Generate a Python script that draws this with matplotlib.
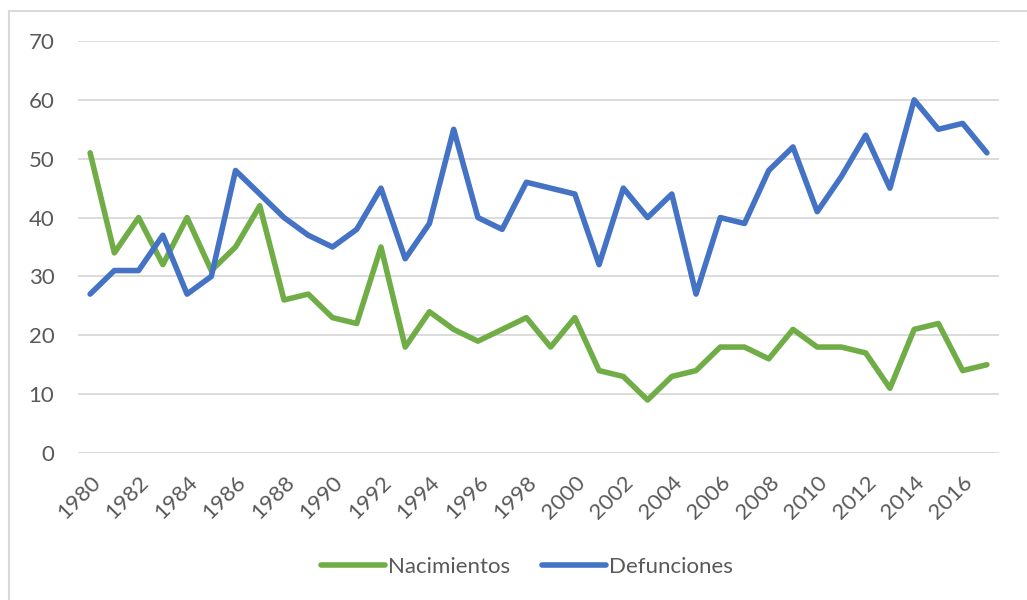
import matplotlib.pyplot as plt
from matplotlib.lines import Line2D

# data
years = list(range(1980, 2018))
nacimientos = [51, 34, 40, 32, 40, 31, 35, 42, 26, 27, 23, 22, 35, 18, 24, 21, 19, 21, 23, 18,
               23, 14, 13, 9, 13, 14, 18, 18, 16, 21, 18, 18, 17, 11, 21, 22, 14, 15]
defunciones = [27, 31, 31, 37, 27, 30, 48, 44, 40, 37, 35, 38, 45, 33, 39, 55, 40, 38, 46, 45,
               44, 32, 45, 40, 44, 27, 40, 39, 48, 52, 41, 47, 54, 45, 60, 55, 56, 51]
yticks = [0, 10, 20, 30, 40, 50, 60, 70]
xtick_years = years[::2]

plt.rcParams['font.family'] = ['Lato', 'DejaVu Sans']
gray = '#595959'

fig = plt.figure(figsize=(10.27, 6), dpi=100)
ax = fig.add_axes([78/1027, 1-453/600, (999-78)/1027, (453-41)/600])

ax.plot(years, nacimientos, color='#70AD47', lw=4.0, solid_joinstyle='round',
        solid_capstyle='round', label='Nacimientos', zorder=3)
ax.plot(years, defunciones, color='#4472C4', lw=4.0, solid_joinstyle='round',
        solid_capstyle='round', label='Defunciones', zorder=3)

ax.set_xlim(1979.5, 2017.5)
ax.set_ylim(0, 70)
ax.set_yticks(yticks)
ax.set_xticks(xtick_years)
ax.set_xticklabels([str(y) for y in xtick_years], rotation=45, ha='right',
                   rotation_mode='anchor')
ax.tick_params(axis='both', length=0, labelsize=16, labelcolor=gray)
ax.tick_params(axis='y', pad=17)
ax.tick_params(axis='x', pad=14)
ax.grid(axis='y', color='#D9D9D9', lw=1.3)
ax.set_axisbelow(True)
for s in ax.spines.values():
    s.set_visible(False)

# chart border (top and left visible in the crop)
fig.add_artist(Line2D([9/1027, 1], [1-11/600, 1-11/600], color='#D9D9D9', lw=1.5))
fig.add_artist(Line2D([9/1027, 9/1027], [0, 1-11/600], color='#D9D9D9', lw=1.5))

leg = fig.legend(loc='center', bbox_to_anchor=(0.513, 0.055), ncol=2, frameon=False,
                 fontsize=16, handlelength=2.9, handletextpad=0.15, columnspacing=1.4)
for t in leg.get_texts():
    t.set_color(gray)

fig.savefig('out.png', dpi=100)
